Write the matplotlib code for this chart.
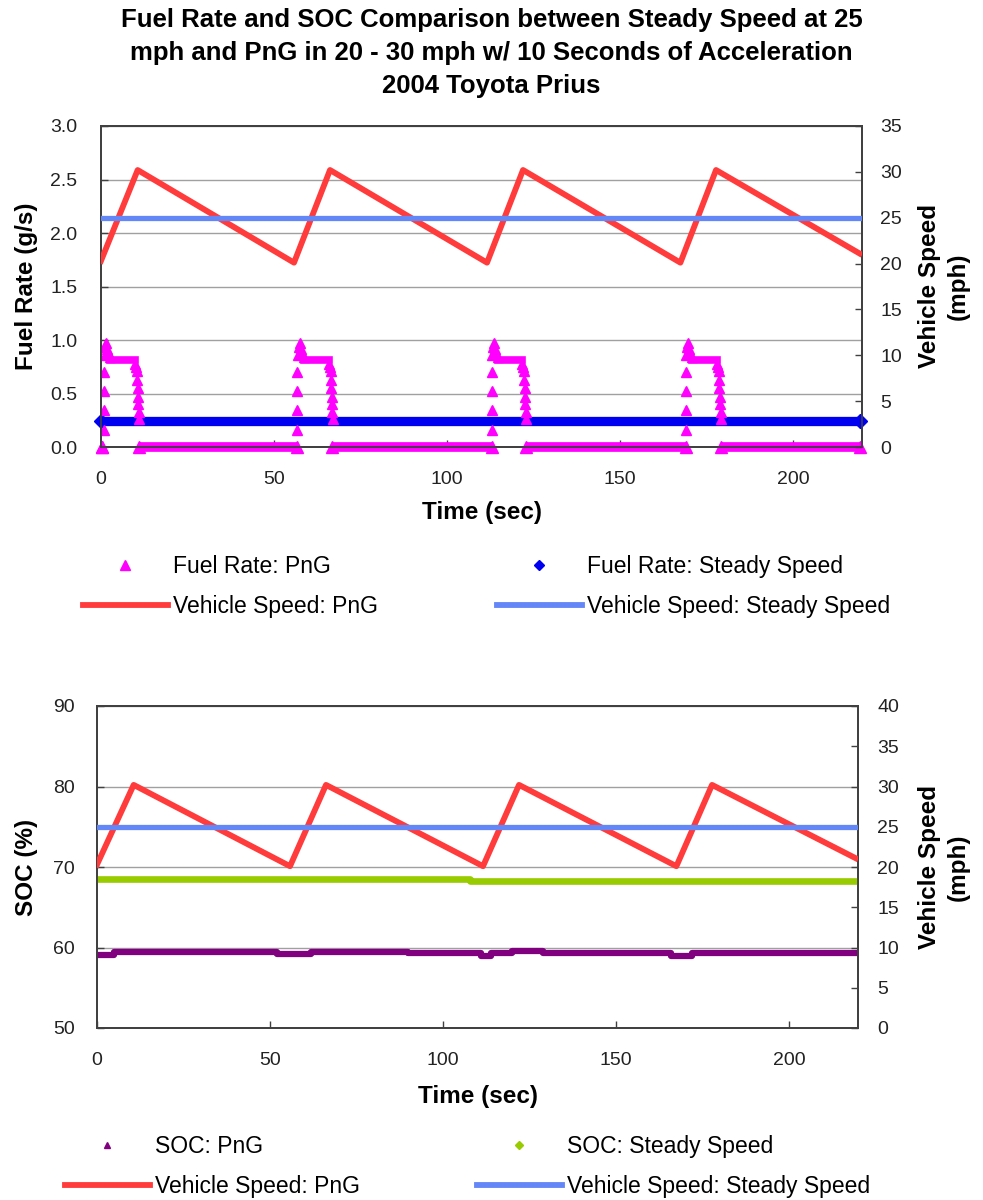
import numpy as np
import matplotlib.pyplot as plt
from matplotlib.lines import Line2D

plt.rcParams['font.family'] = ['Liberation Sans', 'DejaVu Sans']

# vehicle speed, PnG run (mph) - corner points
speed_t = [0, 10.6, 55.8, 66.2, 111.6, 122.0, 167.5, 177.8, 219.3]
speed_v = [20.3, 30.2, 20.1, 30.2, 20.1, 30.2, 20.1, 30.2, 21.1]
speed_steady = 25.0

# fuel rate, PnG (g/s): engine-on pulses
fuel_rise_t = [0.9, 56.8, 112.9, 169.0]
fuel_drop_t = [10.4, 66.4, 122.3, 178.6]
rise_dt = [0.0, 0.0, 0.0, 0.0, 0.2, 0.4, 0.6, 0.9, 1.3, 1.8]
rise_v = [0.16, 0.35, 0.52, 0.70, 0.86, 0.93, 0.97, 0.92, 0.87, 0.84]
plateau_v = 0.81
drop_dt = [-0.6, -0.3, 0.0, 0.1, 0.2, 0.3, 0.4, 0.5, 0.6]
drop_v = [0.78, 0.75, 0.71, 0.63, 0.55, 0.47, 0.40, 0.33, 0.26]
# engine-off stretches (fuel rate = 0)
zero_start = [0.3, 11.0, 66.9, 122.8, 179.1]
zero_end = [0.3, 56.8, 112.9, 169.0, 219.5]
fuel_steady = 0.24

# SOC (%)
soc_png_t = [0, 5, 52, 62, 90, 111, 114, 120, 129, 166, 172, 219.5]
soc_png_v = [59.1, 59.45, 59.15, 59.45, 59.3, 59.0, 59.3, 59.6, 59.3, 59.0, 59.3, 59.3]
soc_ss_t = [0, 107.7, 219.5]
soc_ss_v = [68.55, 68.3, 68.3]

RED = '#FF3B3B'
LBLUE = '#6487F8'
MAG = '#FF00FF'
DBLUE = '#0000F0'
GREEN = '#99CC00'
PURPLE = '#800080'
GRID = '#A0A0A0'
SPINE = '#404040'
BOLD_FS = 17.5

fig = plt.figure(figsize=(9.83, 12), dpi=100)
W, H = 983, 1200


def make_axes(l, r, t, b):
    return fig.add_axes([l / W, 1 - b / H, (r - l) / W, (b - t) / H])


def style(ax, ypad):
    for s in ax.spines.values():
        s.set_color(SPINE)
        s.set_linewidth(1.3)
    ax.tick_params(direction='in', length=5, width=1, colors=SPINE,
                   labelcolor='#222222', labelsize=14)
    ax.tick_params(axis='x', pad=17)
    ax.tick_params(axis='y', pad=ypad)


# ---------------- top chart ----------------
ax1 = make_axes(101, 862, 126, 447)
ax1.set_xlim(0, 220)
ax1.set_ylim(0, 3.0)
ax1.set_yticks(np.arange(0, 3.01, 0.5))
ax1.set_yticklabels([f'{v:.1f}' for v in np.arange(0, 3.01, 0.5)])
ax1.set_xticks([0, 50, 100, 150, 200])
ax1.yaxis.grid(True, color=GRID, lw=1)
ax1.set_axisbelow(True)
style(ax1, 17)

# steady-speed fuel rate
ax1.plot([0, 219.3], [fuel_steady, fuel_steady], color=DBLUE, lw=6.7,
         solid_capstyle='butt', zorder=3, clip_on=False)
ax1.plot([0, 219.3], [fuel_steady, fuel_steady], 'D', color=DBLUE, ms=7,
         zorder=3, clip_on=False)

# PnG fuel rate
for s, e in zip(zero_start, zero_end):
    ax1.plot([s, e], [0, 0], color=MAG, lw=7, solid_capstyle='butt',
             zorder=4, clip_on=False)
    ax1.plot([s, e], [0, 0], '^', color=MAG, ms=9, zorder=4, clip_on=False)
for r, d in zip(fuel_rise_t, fuel_drop_t):
    ax1.plot([r + x for x in rise_dt], rise_v, '^', color=MAG, ms=6.5, zorder=4)
    ax1.plot([r + 1.8, d - 0.6], [plateau_v, plateau_v], color=MAG, lw=5.5,
             zorder=4)
    ax1.plot([d + x for x in drop_dt], drop_v, '^', color=MAG, ms=6.5, zorder=4)

ax1b = ax1.twinx()
ax1b.set_ylim(0, 35)
ax1b.set_yticks(range(0, 36, 5))
style(ax1b, 13)
ax1b.plot(speed_t, speed_v, color=RED, lw=4.2, zorder=3)
ax1b.plot([0, 219.3], [speed_steady, speed_steady], color=LBLUE, lw=3.8, zorder=3)

ax1.set_xlabel('Time (sec)', fontsize=BOLD_FS, fontweight='bold')
ax1.xaxis.set_label_coords(0.5, (447 - 512) / 321)
ax1.xaxis.label.set_va('center')
ax1.set_ylabel('Fuel Rate (g/s)', fontsize=BOLD_FS, fontweight='bold')
ax1.yaxis.set_label_coords((27 - 101) / 761, 0.5)
ax1.yaxis.label.set_va('center')
ax1b.set_ylabel('Vehicle Speed\n(mph)', fontsize=BOLD_FS, fontweight='bold',
                linespacing=1.32)
ax1b.yaxis.set_label_coords((944 - 101) / 761, 0.5)
ax1b.yaxis.label.set_va('center')

# ---------------- bottom chart ----------------
ax2 = make_axes(97, 858, 706, 1028)
ax2.set_xlim(0, 220)
ax2.set_ylim(50, 90)
ax2.set_yticks(range(50, 91, 10))
ax2.set_xticks([0, 50, 100, 150, 200])
ax2.yaxis.grid(True, color=GRID, lw=1)
ax2.set_axisbelow(True)
style(ax2, 16)

ax2.plot(soc_png_t, soc_png_v, color=PURPLE, lw=4.5, drawstyle='steps-post',
         zorder=3)
ax2.plot(soc_ss_t, soc_ss_v, color=GREEN, lw=4.8, drawstyle='steps-post',
         zorder=3)

ax2b = ax2.twinx()
ax2b.set_ylim(0, 40)
ax2b.set_yticks(range(0, 41, 5))
style(ax2b, 14)
ax2b.plot(speed_t, speed_v, color=RED, lw=4.2, zorder=3)
ax2b.plot([0, 219.3], [speed_steady, speed_steady], color=LBLUE, lw=3.8, zorder=3)

ax2.set_xlabel('Time (sec)', fontsize=BOLD_FS, fontweight='bold')
ax2.xaxis.set_label_coords(0.5, (1028 - 1096) / 322)
ax2.xaxis.label.set_va('center')
ax2.set_ylabel('SOC (%)', fontsize=BOLD_FS, fontweight='bold')
ax2.yaxis.set_label_coords((27 - 97) / 761, 0.5)
ax2.yaxis.label.set_va('center')
ax2b.set_ylabel('Vehicle Speed\n(mph)', fontsize=BOLD_FS, fontweight='bold',
                linespacing=1.32)
ax2b.yaxis.set_label_coords((944 - 97) / 761, 0.5)
ax2b.yaxis.label.set_va('center')

# ---------------- title ----------------
fig.text(0.5, 1 - 53 / H,
         'Fuel Rate and SOC Comparison between Steady Speed at 25\n'
         'mph and PnG in 20 - 30 mph w/ 10 Seconds of Acceleration\n'
         '2004 Toyota Prius',
         ha='center', va='center', fontsize=18.5, fontweight='bold',
         linespacing=1.45)

# ---------------- legends ----------------
leg_kw = dict(loc='upper left', frameon=False, fontsize=16.5, handlelength=3.7,
              handletextpad=0.22, borderpad=0, borderaxespad=0,
              labelspacing=0.75)


def add_leg(handles, labels, x, y):
    leg = fig.legend(handles, labels, bbox_to_anchor=(x / W, 1 - y / H), **leg_kw)
    return leg


add_leg([Line2D([], [], ls='', marker='^', color=MAG, ms=7),
         Line2D([], [], color=RED, lw=4.2)],
        ['Fuel Rate: PnG', 'Vehicle Speed: PnG'], 83, 555)
add_leg([Line2D([], [], ls='', marker='D', color=DBLUE, ms=5.5),
         Line2D([], [], color=LBLUE, lw=4.2)],
        ['Fuel Rate: Steady Speed', 'Vehicle Speed: Steady Speed'], 497, 555)
add_leg([Line2D([], [], ls='', marker='^', color=PURPLE, ms=4),
         Line2D([], [], color=RED, lw=4.2)],
        ['SOC: PnG', 'Vehicle Speed: PnG'], 65, 1135)
add_leg([Line2D([], [], ls='', marker='D', color=GREEN, ms=4),
         Line2D([], [], color=LBLUE, lw=4.2)],
        ['SOC: Steady Speed', 'Vehicle Speed: Steady Speed'], 477, 1135)

fig.savefig('out.png', dpi=100)
